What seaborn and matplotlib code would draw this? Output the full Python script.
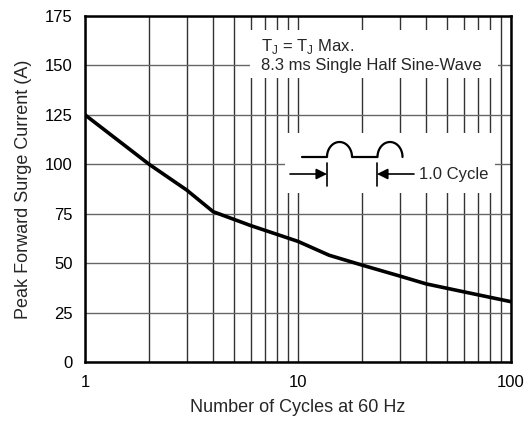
import numpy as np
import pandas as pd
import matplotlib
matplotlib.use("Agg")
import matplotlib.pyplot as plt
import seaborn as sns

# Surge current vs number of cycles
cycles = [1, 2, 3, 4, 6, 10, 14, 20, 30, 40, 60, 100]
current = [125, 100, 87, 76, 69, 61, 54, 49, 43.5, 39.5, 35.5, 30.5]

y_ticks = [0, 25, 50, 75, 100, 125, 150, 175]
x_ticks = [1, 10, 100]
x_tick_labels = ["1", "10", "100"]

df = pd.DataFrame({"cycles": cycles, "current": current})

sns.set_style("white")
plt.rcParams["font.family"] = ["Liberation Sans", "DejaVu Sans"]
plt.rcParams["mathtext.fontset"] = "custom"
plt.rcParams["mathtext.rm"] = "Liberation Sans"

fig = plt.figure(figsize=(5.25, 4.23), dpi=100)
W, H = 525, 423
ax = fig.add_axes([85 / W, 1 - 362 / H, (511 - 85) / W, (362 - 16) / H])

ax.set_xscale("log")
ax.set_xlim(1, 100)
ax.set_ylim(0, 175)

# grid
ax.grid(True, which="major", axis="y", color="#666666", lw=1.0)
ax.grid(True, which="both", axis="x", color="#333333", lw=1.0)
ax.set_axisbelow(True)

sns.lineplot(data=df, x="cycles", y="current", color="black", lw=2.6, ax=ax, zorder=5)

ax.set_xticks(x_ticks)
ax.set_xticklabels(x_tick_labels)
ax.set_yticks(y_ticks)
ax.tick_params(axis="both", which="both", direction="in", labelsize=12, colors="black",
               length=0, pad=9)
ax.xaxis.set_minor_formatter(matplotlib.ticker.NullFormatter())
for s in ax.spines.values():
    s.set_visible(True)
    s.set_color("black")
    s.set_linewidth(1.8)

ax.set_xlabel("Number of Cycles at 60 Hz", fontsize=13, labelpad=7)
ax.set_ylabel("Peak Forward Surge Current (A)", fontsize=13, labelpad=9)


def white_panel(x0, y0, x1, y1):
    # blank panel in figure pixel coords, drawn over the grid
    p = fig.add_axes([x0 / W, 1 - y1 / H, (x1 - x0) / W, (y1 - y0) / H])
    p.set_xlim(x0, x1)
    p.set_ylim(y1, y0)
    p.set_facecolor("white")
    p.set_xticks([])
    p.set_yticks([])
    for s in p.spines.values():
        s.set_visible(False)
    return p


# condition text box
tb = white_panel(250, 30, 498, 78)
tb.text(261, 46, r"T$_\mathregular{J}$ = T$_\mathregular{J}$ Max.", fontsize=12,
        va="center", ha="left")
tb.text(261, 65, "8.3 ms Single Half Sine-Wave", fontsize=12, va="center", ha="left")

# waveform inset
ins = white_panel(285, 133, 495, 193)
base = 157
t = np.linspace(0, np.pi, 60)
r = 12.5
b1x = 339.5 - r * np.cos(t)
b1y = base - 15 * np.sin(t)
b2x = 390 - r * np.cos(t)
wx = np.concatenate([[302, 327], b1x, [352, 377.5], b2x])
wy = np.concatenate([[base, base], b1y, [base, base], b1y])
ins.plot(wx, wy, color="black", lw=1.6)
ins.plot([327, 327], [163, 186], color="black", lw=1.2)
ins.plot([377, 377], [163, 186], color="black", lw=1.2)
ins.annotate("", xy=(327, 174), xytext=(290, 174),
             arrowprops=dict(arrowstyle="-|>", color="black", lw=1.2, mutation_scale=16,
                             shrinkA=0, shrinkB=0))
ins.annotate("", xy=(377, 174), xytext=(414, 174),
             arrowprops=dict(arrowstyle="-|>", color="black", lw=1.2, mutation_scale=16,
                             shrinkA=0, shrinkB=0))
ins.text(419, 174, "1.0 Cycle", fontsize=12, va="center", ha="left")

fig.patch.set_facecolor("white")
fig.savefig("out.png", dpi=100)
